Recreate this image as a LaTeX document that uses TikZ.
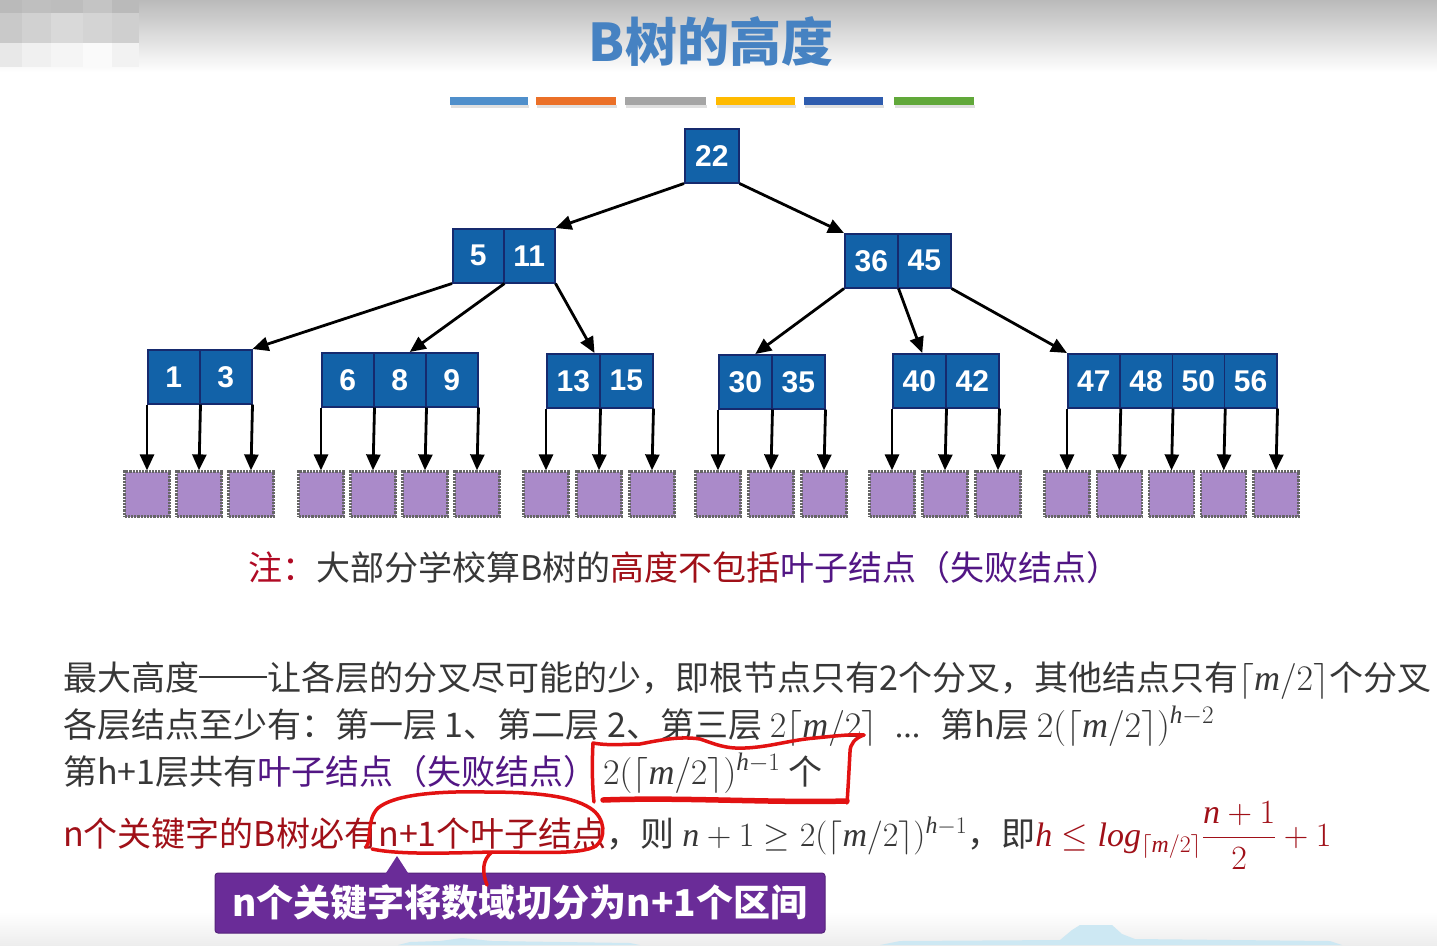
\RequirePackage{fix-cm}
\documentclass[tikz,border=0pt]{standalone}
\usepackage{amsmath}
\usepackage{fontspec}
\usetikzlibrary{arrows.meta}
\newfontfamily\cjk{Noto Sans CJK SC}
\newfontfamily\hv{Liberation Sans}
\newfontfamily\tms{Liberation Serif}[NFSSFamily=libser]
\DeclareSymbolFont{letters}{TU}{libser}{m}{it}
\DeclareSymbolFont{operators}{TU}{libser}{m}{n}
\DeclareMathSymbol{/}{\mathord}{operators}{`/}
\newcommand\mth[1]{{\fontsize{36}{36}\selectfont$#1$}}
\newcommand\cdash{\rule[0.36em]{2em}{1.6pt}}
\definecolor{nodeblue}{RGB}{18,98,168}
\definecolor{nodeedge}{RGB}{22,42,110}
\definecolor{leafc}{RGB}{170,138,201}
\definecolor{txtgray}{RGB}{55,55,55}
\definecolor{darkred}{RGB}{160,16,24}
\definecolor{notered}{RGB}{176,10,36}
\definecolor{notepurple}{RGB}{82,22,132}
\definecolor{titleblue}{RGB}{70,130,194}
\definecolor{penred}{RGB}{226,18,18}
\definecolor{calloutc}{RGB}{106,44,152}
\definecolor{skyc}{RGB}{205,232,243}
\definecolor{sA}{RGB}{79,143,203}
\definecolor{sB}{RGB}{235,112,40}
\definecolor{sC}{RGB}{165,165,165}
\definecolor{sD}{RGB}{255,186,0}
\definecolor{sE}{RGB}{46,92,174}
\definecolor{sF}{RGB}{97,168,58}
\newcommand\bkeys[5]{%
  \foreach \k [count=\i] in {#5}{%
    \node[cell, minimum width=#4pt] (#1\i) at ({#2+(\i-1)*#4},#3) {\k};
  }}
\newcommand\bleaves[4]{%
  \foreach \j in {0,...,#4}{%
    \node[leaf] (#1L\j) at ({#2+\j*#3},494) {};
  }
  \draw[arr] (#11.south west) -- (#1L0.north);
  \foreach \j in {1,...,#4}{\draw[arr] (#1\j.south east) -- (#1L\j.north);}
}
\begin{document}
\begin{tikzpicture}[x=1pt,y=-1pt,
  cell/.style={draw=nodeedge, line width=1.5pt, fill=nodeblue, minimum height=54pt,
    inner sep=0pt, text=white, font=\hv\bfseries\fontsize{30}{30}\selectfont, anchor=north west},
  leaf/.style={draw=black!60, densely dotted, line width=2.2pt, fill=leafc, minimum size=45pt, inner sep=0pt},
  arr/.style={line width=2.8pt, -{Triangle[length=16pt,width=14pt]}},
  txt/.style={anchor=base west, inner sep=0pt, text=txtgray, font=\cjk\fontsize{34}{34}\selectfont},
  pen/.style={draw=penred, line width=3.5pt, line cap=round, line join=round}]
\useasboundingbox (0,0) rectangle (1437,945);
\fill[white] (0,0) rectangle (1437,945);
\shade[top color=black!27, bottom color=white] (0,0) rectangle (1437,72);
\shade[top color=white, bottom color=black!7] (0,912) rectangle (1437,945);
% mosaic
\fill[black!27] (0,0) rectangle (22,13);
\fill[black!25] (22,0) rectangle (51,13);
\fill[black!26] (51,0) rectangle (83,13);
\fill[black!23] (83,0) rectangle (112,13);
\fill[black!27] (112,0) rectangle (139,13);
\fill[black!21] (0,13) rectangle (22,43);
\fill[black!18] (22,13) rectangle (51,43);
\fill[black!15] (51,13) rectangle (83,43);
\fill[black!17] (83,13) rectangle (112,43);
\fill[black!19] (112,13) rectangle (139,43);
\fill[black!9] (0,43) rectangle (22,67);
\fill[black!6] (22,43) rectangle (51,67);
\fill[black!4] (51,43) rectangle (83,67);
\fill[black!2] (83,43) rectangle (112,67);
\fill[black!5] (112,43) rectangle (139,67);
% bottom sky
\fill[skyc] (880,945) -- (900,941) -- (1060,940) -- (1072,930) -- (1080,925) -- (1112,925) -- (1122,934) -- (1135,939) -- (1330,941) -- (1342,945) -- cycle;
\fill[skyc] (398,945) -- (410,942) -- (440,941) -- (462,938) -- (492,941) -- (630,943) -- (640,945) -- cycle;
% title
\node[font=\cjk\bfseries\fontsize{52}{52}\selectfont, text=titleblue] (title) at (711,42) {B树的高度};
% stripes
\foreach \a/\b/\c in {450/528/sA, 536/616/sB, 625/706/sC, 716/795/sD, 804/883/sE, 894/974/sF}{
  \fill[black!12] (\a+1,105) rectangle (\b+1,108);
  \fill[\c] (\a,97) rectangle (\b,105);
}
% tree
\bkeys{r}{684}{128}{54}{22}
\bkeys{a}{452}{228}{51}{5,11}
\bkeys{b}{844}{233}{53}{36,45}
\bkeys{c}{147}{349}{52}{1,3}
\bkeys{d}{321}{352}{52}{6,8,9}
\bkeys{e}{546}{353}{53}{13,15}
\bkeys{f}{718}{354}{53}{30,35}
\bkeys{g}{892}{353}{53}{40,42}
\bkeys{h}{1067}{353}{52.25}{47,48,50,56}
\bleaves{c}{147}{52}{2}
\bleaves{d}{321}{52}{3}
\bleaves{e}{546}{53}{2}
\bleaves{f}{718}{53}{2}
\bleaves{g}{892}{53}{2}
\bleaves{h}{1067}{52.25}{4}
\draw[arr] (r1.south west) -- (a2.north east);
\draw[arr] (r1.south east) -- (b1.north west);
\draw[arr] (a1.south west) -- (c2.north east);
\draw[arr] (a1.south east) -- ([xshift=10pt]d2.north);
\draw[arr] (a2.south east) -- ([xshift=-6pt]e1.north east);
\draw[arr] (b1.south west) -- ([xshift=10pt]f1.north);
\draw[arr] (b1.south east) -- ([xshift=3pt]g1.north);
\draw[arr] (b2.south east) -- (h1.north west);
% note
\node[txt] (note) at (248,580) {\textcolor{notered}{注：}大部分学校算B树的\textcolor{darkred}{高度不包括}\textcolor{notepurple}{叶子结点（失败结点）}};
% lines
\node[txt] (l1) at (63,690) {最大高度\cdash 让各层的分叉尽可能的少，即根节点只有2个分叉，其他结点只有\mth{\lceil m/2\rceil}个分叉};
\node[txt] (l2) at (63,737) {各层结点至少有：第一层 1、第二层 2、第三层 \mth{2\lceil m/2\rceil}\hspace{10pt} {\tms...}\hspace{10pt} 第h层 \mth{2(\lceil m/2\rceil)^{h-2}}};
\node[txt] (l3) at (63,784) {第h+1层共有\textcolor{notepurple}{叶子结点（失败结点）}\,\mth{2(\lceil m/2\rceil)^{h-1}} 个};
\node[txt] (l4) at (63,846) {\textcolor{darkred}{n个关键字的B树必有n+1个叶子结点}，则 $n+1\geq 2(\lceil m/2\rceil)^{h-1}$，即\textcolor{darkred}{$h\leq log_{\lceil m/2\rceil}\dfrac{n+1}{2}+1$}};
% callout
\node[fill=calloutc, draw=calloutc!80!black, line width=1pt, rounded corners=3pt, minimum width=610pt, minimum height=60pt,
  text=white, font=\cjk\bfseries\fontsize{37}{37}\selectfont] (co) at (520,903) {n个关键字将数域切分为n+1个区间};
\coordinate (cotip) at (397,856);
\fill[calloutc] ([xshift=-135pt,yshift=-2pt]co.north) -- (cotip) -- ([xshift=-111pt,yshift=-2pt]co.north) -- cycle;
% red pen annotations
\draw[pen] (594,802) .. controls (592,785) and (592,760) .. (593,743)
  .. controls (610,746) and (625,744) .. (640,744)
  .. controls (660,740) and (680,736) .. (700,739)
  .. controls (715,744) and (725,749) .. (745,748)
  .. controls (770,747) and (790,740) .. (815,738)
  .. controls (835,736) and (852,734) .. (864,735);
\draw[pen] (864,735) .. controls (855,738) and (850,744) .. (850,752)
  .. controls (849,770) and (848,790) .. (847,803);
\draw[pen, line width=5.5pt] (603,800) .. controls (680,797) and (770,803) .. (847,801);
\draw[pen] (366,847) .. controls (372,840) and (366,820) .. (378,808)
  .. controls (395,794) and (440,791) .. (485,792)
  .. controls (530,792) and (570,795) .. (590,808)
  .. controls (606,818) and (606,838) .. (596,846)
  .. controls (580,855) and (540,852) .. (492,852)
  .. controls (450,853) and (400,855) .. (372,849);
\draw[pen] (492,852) .. controls (482,860) and (482,872) .. (487,885);
\end{tikzpicture}
\end{document}
